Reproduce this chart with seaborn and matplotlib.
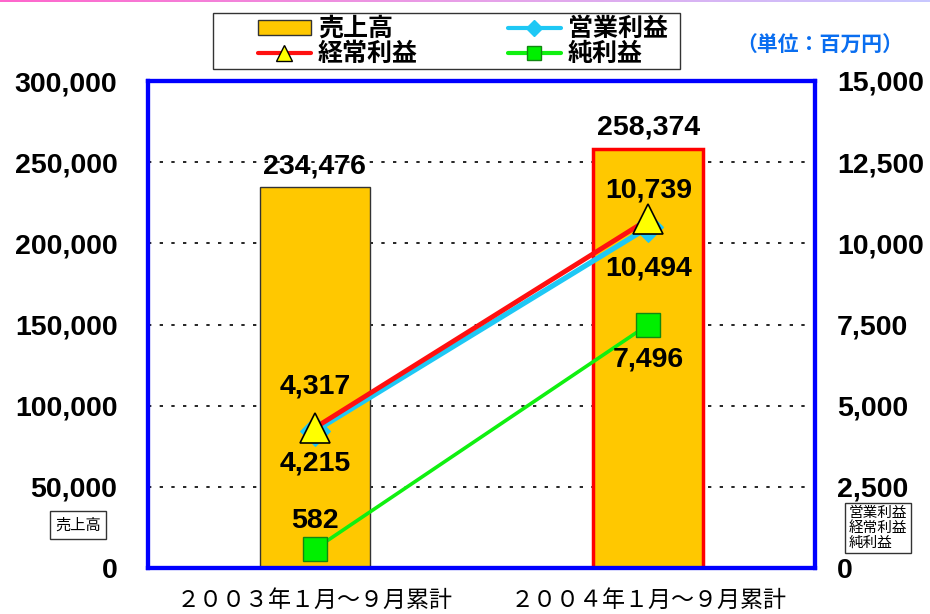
import matplotlib
matplotlib.use("Agg")
import matplotlib.pyplot as plt
import numpy as np
import seaborn as sns
from matplotlib.colors import LinearSegmentedColormap
from matplotlib.lines import Line2D
from matplotlib.patches import Patch, Rectangle

periods = ["２００３年１月～９月累計", "２００４年１月～９月累計"]
sales = [234476, 258374]
operating = [4215, 10494]
ordinary = [4317, 10739]
net = [582, 7496]

left_ticks = [0, 50000, 100000, 150000, 200000, 250000, 300000]
right_ticks = [0, 2500, 5000, 7500, 10000, 12500, 15000]

BAR = "#FFC800"
CYAN = "#1EC8F5"
RED = "#FF1010"
GREEN = "#10F010"
BLUE = "#0000FF"
NUM_FONT = ["Liberation Sans", "Noto Sans CJK JP"]
JP_FONT = ["Noto Sans CJK JP", "DejaVu Sans"]

sns.set_theme(style="white")
plt.rcParams["font.family"] = NUM_FONT
plt.rcParams["text.color"] = "black"
plt.rcParams["xtick.color"] = "black"
plt.rcParams["ytick.color"] = "black"

fig = plt.figure(figsize=(9.3, 6.14), dpi=100)
ax = fig.add_axes([148 / 930, 1 - 568 / 614, 667 / 930, 487 / 614])

# top gradient strip
strip = fig.add_axes([0, 1 - 2 / 614, 1, 2 / 614])
grad = np.linspace(0, 1, 256).reshape(1, -1)
cmap = LinearSegmentedColormap.from_list("strip", ["#FF66CC", "#E8A0E8", "#C8C8FF"])
strip.imshow(grad, aspect="auto", cmap=cmap)
strip.axis("off")

# bars
sns.barplot(x=periods, y=sales, ax=ax, color=BAR, width=0.33,
            edgecolor="#333333", linewidth=1, saturation=1, zorder=2)
ax.patches[1].set_edgecolor("#FF0000")
ax.patches[1].set_linewidth(2.5)
ax.set_xlim(-0.5, 1.5)
ax.set_ylim(0, 300000)
ax.set_yticks(left_ticks)
ax.set_yticklabels([f"{v:,}" for v in left_ticks], fontsize=20.5, fontweight="bold",
                   color="black")
ax.set_xticks(range(len(periods)))
ax.set_xticklabels(periods, fontsize=16.6, family=JP_FONT, color="black")
ax.set_xticks([0.5], minor=True)
ax.tick_params(axis="x", which="major", length=0, pad=15)
ax.tick_params(axis="x", which="minor", direction="in", length=6, width=2, color=BLUE)
ax.tick_params(axis="y", length=0, pad=22)
for v in left_ticks[1:-1]:
    ax.axhline(v, color="black", lw=1.2, ls=(0, (2, 5)), zorder=1)
ax.set_xlabel("")
ax.set_ylabel("")
ax.grid(False)

for i, v in enumerate(sales):
    ax.annotate(f"{v:,}", (i, v), xytext=(0, 15), textcoords="offset points",
                ha="center", va="center", fontsize=20.5, fontweight="bold",
                color="black")

# lines on the right axis
ax2 = ax.twinx()
xpos = np.arange(len(periods))
sns.lineplot(x=xpos, y=net, ax=ax2, color=GREEN, lw=2.6, marker="s", markersize=17,
             markerfacecolor="#00F000", markeredgecolor="#118811", markeredgewidth=1)
sns.lineplot(x=xpos, y=operating, ax=ax2, color=CYAN, lw=3.8, marker="D", markersize=15,
             markerfacecolor=CYAN, markeredgecolor=CYAN)
sns.lineplot(x=xpos, y=ordinary, ax=ax2, color=RED, lw=3.5, marker="^", markersize=22,
             markerfacecolor="#FFFF00", markeredgecolor="black", markeredgewidth=1.2)
ax2.set_ylim(0, 15000)
ax2.set_xlim(-0.5, 1.5)
ax2.set_yticks(right_ticks)
ax2.set_yticklabels([f"{v:,}" for v in right_ticks], fontsize=20.5, fontweight="bold",
                    color="black")
ax2.tick_params(axis="y", length=0, pad=16)
ax2.set_xlabel("")
ax2.set_ylabel("")
ax2.grid(False)

for a in (ax, ax2):
    for s in a.spines.values():
        s.set_color(BLUE)
        s.set_linewidth(3)

label_offsets = [
    (ordinary[0], 0, 30), (operating[0], 0, -23), (net[0], 0, 20),
    (ordinary[1], 1, 21), (operating[1], 1, -30), (net[1], 1, -25),
]
for v, i, dy in label_offsets:
    ax2.annotate(f"{v:,}", (i, v), xytext=(0, dy), textcoords="offset points",
                 ha="center", va="center", fontsize=20.5, fontweight="bold",
                 color="black")

# legend
fig.patches.append(Rectangle((213 / 930, 1 - 69 / 614), 467 / 930, 56 / 614,
                             transform=fig.transFigure, fill=False,
                             edgecolor="#333333", lw=1))
handles = [
    Patch(facecolor=BAR, edgecolor="#333333", lw=1),
    Line2D([], [], color=RED, lw=3, marker="^", markersize=11,
           markerfacecolor="#FFFF00", markeredgecolor="black"),
    Line2D([], [], color=CYAN, lw=3, marker="D", markersize=8,
           markerfacecolor=CYAN, markeredgecolor=CYAN),
    Line2D([], [], color=GREEN, lw=3, marker="s", markersize=10,
           markerfacecolor="#00F000", markeredgecolor="#118811"),
]
names = ["売上高", "経常利益", "営業利益", "純利益"]
fig.legend(handles, names, ncol=2, loc="center left",
           bbox_to_anchor=(258 / 930, 1 - 41.5 / 614), frameon=False,
           borderaxespad=0, borderpad=0, handlelength=2.1, handleheight=0.55,
           handletextpad=0.3, columnspacing=3.6, labelspacing=0.05,
           prop=dict(family=JP_FONT, weight="bold", size=18))

fig.text(820 / 930, 1 - 45 / 614, "（単位：百万円）", color="#0A6EF0", fontsize=15,
         fontweight="bold", ha="center", va="center", family=JP_FONT)

box = dict(boxstyle="square,pad=0.35", facecolor="white", edgecolor="#333333", lw=1)
fig.text(78 / 930, 1 - 525 / 614, "売上高", fontsize=11, ha="center", va="center",
         family=JP_FONT, bbox=box)
fig.text(849 / 930, 1 - 528 / 614, "営業利益\n経常利益\n純利益", fontsize=10.5,
         ha="left", va="center", family=JP_FONT, linespacing=1.05,
         bbox=dict(boxstyle="square,pad=0.25", facecolor="white",
                   edgecolor="#333333", lw=1))

fig.savefig("out.png", dpi=100)
